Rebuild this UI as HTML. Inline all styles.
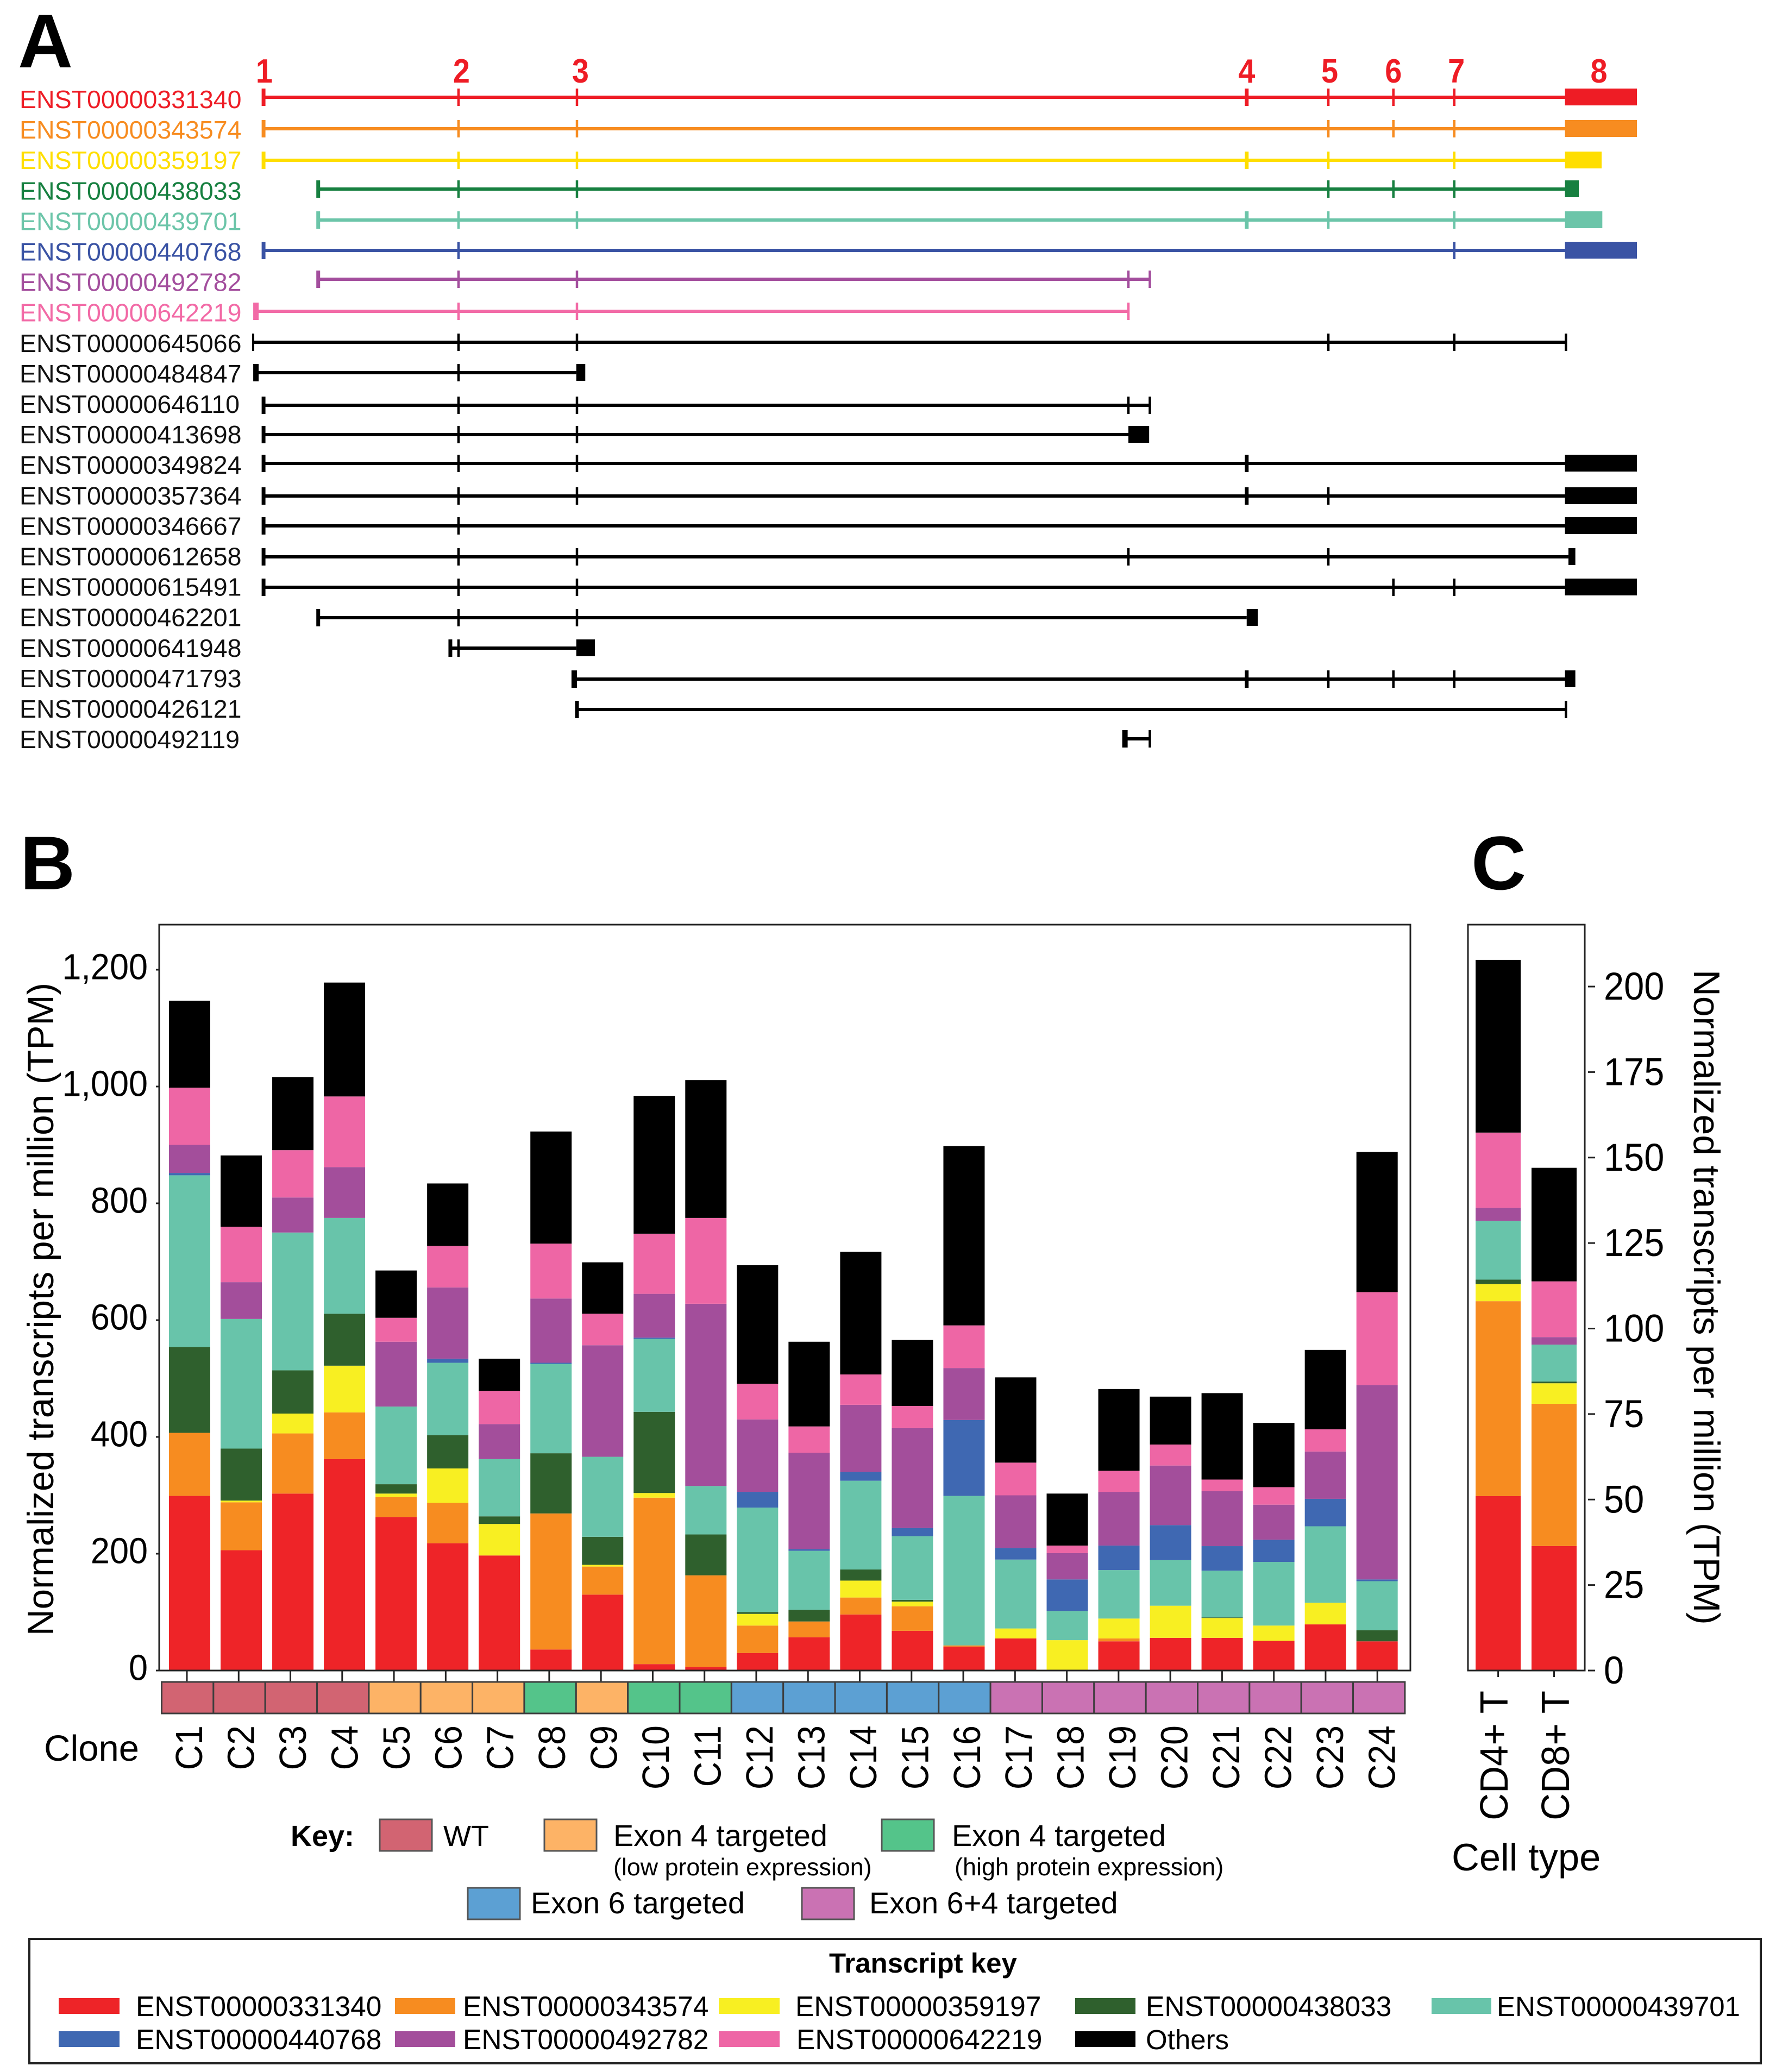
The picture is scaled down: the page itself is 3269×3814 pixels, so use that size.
<!DOCTYPE html>
<html lang="en">
<head>
<meta charset="utf-8">
<title>Transcript structures and expression</title>
<style>
html,body{margin:0;padding:0;background:#fff;}
svg{display:block;}
text{font-family:"Liberation Sans",Arial,sans-serif;fill:#000;}
.b{font-weight:bold;}
</style>
</head>
<body>
<svg id="fig" xmlns="http://www.w3.org/2000/svg" width="3269" height="3814" viewBox="0 0 3269 3814">
  <rect x="0" y="0" width="3269" height="3814" fill="#fff"/>

  <text class="b" x="33" y="124" font-size="140">A</text>
  <text class="b" x="37" y="1637" font-size="140">B</text>
  <text class="b" x="2708" y="1637" font-size="140">C</text>

  <g id="trackLayer"></g>
  <g id="barLayerB"></g>
  <g id="barLayerC"></g>

  <text transform="translate(98,3011) rotate(-90)" font-size="67.4">Normalized transcripts per million (TPM)</text>
  <text transform="translate(3118,1785) rotate(90)" font-size="67.6">Normalized transcripts per million (TPM)</text>
  <text x="81" y="3241" font-size="67">Clone</text>
  <text x="2672" y="3443" font-size="70.5">Cell type</text>

  <g>
    <text class="b" x="535" y="3398" font-size="54">Key:</text>
    <rect x="699" y="3349" width="96" height="58" fill="#d26472" stroke="#555" stroke-width="3"/>
    <text x="816" y="3398" font-size="54">WT</text>
    <rect x="1002" y="3349" width="96" height="58" fill="#fdb366" stroke="#555" stroke-width="3"/>
    <text x="1129" y="3398" font-size="55.8">Exon 4 targeted</text>
    <text x="1129" y="3452" font-size="44.8">(low protein expression)</text>
    <rect x="1623" y="3349" width="96" height="58" fill="#54c48a" stroke="#555" stroke-width="3"/>
    <text x="1752" y="3398" font-size="55.8">Exon 4 targeted</text>
    <text x="1757" y="3452" font-size="45">(high protein expression)</text>
    <rect x="861" y="3475" width="96" height="58" fill="#5ca0d3" stroke="#555" stroke-width="3"/>
    <text x="977" y="3522" font-size="55.8">Exon 6 targeted</text>
    <rect x="1476" y="3475" width="96" height="58" fill="#ca72b3" stroke="#555" stroke-width="3"/>
    <text x="1600" y="3522" font-size="55.8">Exon 6+4 targeted</text>
  </g>

  <g>
    <rect x="54" y="3569" width="3187" height="229" fill="none" stroke="#222" stroke-width="4"/>
    <text class="b" x="1526" y="3631" font-size="51">Transcript key</text>
    <rect x="108" y="3678" width="112" height="29" fill="#ee2428"/>
    <text x="250" y="3711" font-size="51.5">ENST00000331340</text>
    <rect x="727" y="3678" width="111" height="29" fill="#f78c20"/>
    <text x="852" y="3711" font-size="51.5">ENST00000343574</text>
    <rect x="1323" y="3678" width="112" height="29" fill="#f8ef22"/>
    <text x="1464" y="3711" font-size="51.5">ENST00000359197</text>
    <rect x="1979" y="3678" width="111" height="29" fill="#2f602d"/>
    <text x="2109" y="3711" font-size="51.5">ENST00000438033</text>
    <rect x="2635" y="3678" width="110" height="29" fill="#68c4aa"/>
    <text x="2755" y="3711" font-size="51">ENST00000439701</text>
    <rect x="108" y="3739" width="112" height="29" fill="#3f68b2"/>
    <text x="250" y="3772" font-size="51.5">ENST00000440768</text>
    <rect x="727" y="3739" width="111" height="29" fill="#a34e9b"/>
    <text x="852" y="3772" font-size="51.5">ENST00000492782</text>
    <rect x="1323" y="3739" width="112" height="29" fill="#ee66a5"/>
    <text x="1466" y="3772" font-size="51.5">ENST00000642219</text>
    <rect x="1979" y="3739" width="111" height="29" fill="#000"/>
    <text x="2109" y="3772" font-size="51">Others</text>
  </g>
</svg>

<script>
// ---------- Panel A data (positions in transcript model units, 0-1000) ----------
const transcriptIds = ["ENST00000331340","ENST00000343574","ENST00000359197","ENST00000438033","ENST00000439701","ENST00000440768","ENST00000492782","ENST00000642219","ENST00000645066","ENST00000484847","ENST00000646110","ENST00000413698","ENST00000349824","ENST00000357364","ENST00000346667","ENST00000612658","ENST00000615491","ENST00000462201","ENST00000641948","ENST00000471793","ENST00000426121","ENST00000492119"];
const transcriptStarts = [7.5,7.5,7.5,47,47,7.5,47,2,0,2,7.5,7.5,7.5,7.5,7.5,7.5,7.5,47,142.5,232,234,630];
const transcriptJunctions = [
  [148.4,234,718,777,824,868],
  [148.4,234,777,824,868],
  [148.4,234,718,777,868],
  [148.4,234,777,824,868],
  [148.4,234,718,777,868],
  [148.4,868],
  [148.4,234,632.5,648],
  [148.4,234,632.5],
  [148.4,234,777,868,948.7],
  [148.4],
  [148.4,234,632.5,648],
  [148.4,234],
  [148.4,234,718],
  [148.4,234,718,777],
  [148.4],
  [148.4,234,632.5,777],
  [148.4,234,824,868],
  [148.4,234],
  [148.4],
  [718,777,824,868],
  [948.7],
  [648]
];
const transcriptEndBlocks = [[948,1000],[948,1000],[948,974.5],[948,958],[948,975],[948,1000],null,null,null,[233.5,240],null,[632.5,647.5],[948,1000],[948,1000],[948,1000],[950.5,955.5],[948,1000],[718,726],[233.5,247],[948,955.5],null,null];
const exonNumbers = ["1","2","3","4","5","6","7","8"];
const exonNumberPositions = [8,150.5,236.5,718,778,824,869.5,972.5];

// ---------- Panel B data (TPM per transcript per clone) ----------
const cloneNames = ["C1","C2","C3","C4","C5","C6","C7","C8","C9","C10","C11","C12","C13","C14","C15","C16","C17","C18","C19","C20","C21","C22","C23","C24"];
const cloneGroups = ["wt","wt","wt","wt","low","low","low","high","low","high","high","e6","e6","e6","e6","e6","e64","e64","e64","e64","e64","e64","e64","e64"];
const tpm331340 = [299,206,303,362,263,218,197,36,130,11,6,30,57,96,68,41,55,0,50,56,56,51,79,50];
const tpm343574 = [108,82,103,80,34,69,0,233,48,285,157,47,27,29,42,2,0,0,5,0,0,0,0,0];
const tpm359197 = [0,3,34,80,6,59,54,0,3,8,0,20,0,29,8,0,17,52,34,55,34,26,37,0];
const tpm438033 = [147,89,74,89,16,57,13,103,48,139,70,3,20,19,3,0,0,0,0,0,1,0,0,19];
const tpm439701 = [294,222,236,164,133,124,98,153,137,125,83,179,101,152,109,256,118,50,83,78,80,109,131,84];
const tpm440768 = [4,0,0,0,0,7,0,2,0,2,0,27,3,15,14,130,20,54,42,60,42,38,47,3];
const tpm492782 = [48,63,60,87,111,122,60,110,191,75,312,124,165,115,171,89,90,45,92,102,94,60,81,333];
const tpm642219 = [98,95,81,121,41,71,57,94,54,103,147,61,45,52,38,73,56,13,36,36,20,30,38,159];
const tpmOthers = [149,122,125,195,81,107,55,192,88,236,236,203,145,210,113,307,146,89,140,82,148,110,136,240];
const cloneTickValues = [0,200,400,600,800,1000,1200];
const cloneTickLabels = ["0","200","400","600","800","1,000","1,200"];

// ---------- Panel C data (TPM per transcript per cell type) ----------
const cellTypes = ["CD4+ T","CD8+ T"];
const cell331340 = [51,36.4];
const cell343574 = [57,41.6];
const cell359197 = [5,6];
const cell438033 = [1.3,0.5];
const cell439701 = [17.2,10.8];
const cell440768 = [0,0];
const cell492782 = [3.8,2.2];
const cell642219 = [22,16.3];
const cellOthers = [50.5,33.2];
const cellTickValues = [0,25,50,75,100,125,150,175,200];
const cellTickLabels = ["0","25","50","75","100","125","150","175","200"];

// ---------- Styles ----------
const seriesColors = ["#ee2428","#f78c20","#f8ef22","#2f602d","#68c4aa","#3f68b2","#a34e9b","#ee66a5","#000000"];
const seriesNames = ["331340","343574","359197","438033","439701","440768","492782","642219","others"];
const trackColors = ["#ee1c25","#f78c20","#ffde00","#178040","#6cc5a9","#3a53a4","#a34e9d","#f26aa6"];
const groupColors = {wt:"#d26472",low:"#fdb366",high:"#54c48a",e6:"#5ca0d3",e64:"#ca72b3"};

// ---------- Scales ----------
function trackX(u){return 466+u*2.547;}
function trackRowY(i){return [179,237,295,348,405,461,514,573,630,686,746,800,853,913,968,1025,1081,1137,1193,1250,1306,1360][i];}
function labelRowY(i){return 199+56.1*i;}
function yB(v){return 3075-v*1.075;}
function xB(i){return 349+95.03*i;}
function yC(v){return 3075-v*6.295;}
function xC(i){return 2757.6+102.9*i;}

const NS = "http://www.w3.org/2000/svg";
function mk(tag, attrs, parent){
  const n = document.createElementNS(NS, tag);
  for (const k in attrs) n.setAttribute(k, attrs[k]);
  parent.appendChild(n);
  return n;
}
let el;

// ---------- Panel A ----------
const track = document.getElementById("trackLayer");
exonNumbers.forEach(function(t, i){
  el = mk("text", {transform:"translate("+trackX(exonNumberPositions[i])+",152) scale(.9,1)", "font-size":62, "font-weight":"bold", "text-anchor":"middle", style:"fill:#ee1c25"}, track);
  
  
  el.textContent = t;
});
transcriptIds.forEach(function(id, i){
  const y = trackRowY(i);
  const color = i < trackColors.length ? trackColors[i] : "#000000";
  el = mk("text", {x:36, y:labelRowY(i), "font-size":46.5, style:"fill:"+(i<trackColors.length?color:"#111")}, track);
  
  
  el.textContent = id;

  const juncs = transcriptJunctions[i];
  const block = transcriptEndBlocks[i];
  let end = transcriptStarts[i];
  juncs.forEach(function(u){ if (u > end) end = u; });
  if (block && block[0] > end) end = block[0];
  el = mk("rect", {x:trackX(transcriptStarts[i]), y:y-3, width:trackX(end)-trackX(transcriptStarts[i]), height:6, fill:color}, track);
  
  

  const startW = (i===7||i===9||i===19||i===21) ? 10 : (i===8 ? 4 : 7);
  el = mk("rect", {x:trackX(transcriptStarts[i])-startW/2, y:y-16, width:startW, height:32, fill:color}, track);
  
  

  juncs.forEach(function(u){
    const w = u === 718 ? 7 : 4.5;
    el = mk("rect", {x:trackX(u)-w/2, y:y-16, width:w, height:32, fill:color}, track);
    
    
  });
  if (block) {
    el = mk("rect", {x:trackX(block[0]), y:y-16, width:trackX(block[1])-trackX(block[0]), height:31, fill:color}, track);
    
    
  }
});

// ---------- Panel B ----------
const layerB = document.getElementById("barLayerB");
const cloneSeries = [tpm331340,tpm343574,tpm359197,tpm438033,tpm439701,tpm440768,tpm492782,tpm642219,tpmOthers];
cloneNames.forEach(function(name, i){
  let cum = 0;
  cloneSeries.forEach(function(s, k){
    const v = s[i];
    if (v > 0) {
      el = mk("rect", {x:xB(i)-38, y:yB(cum+v), width:76, height:yB(cum)-yB(cum+v), fill:seriesColors[k]}, layerB);
      
      
    }
    cum += v;
  });
});
el = mk("rect", {x:293, y:1702, width:2303, height:1373, fill:"none", stroke:"#222", "stroke-width":3}, layerB);



cloneTickValues.forEach(function(v, i){
  el = mk("rect", {x:287, y:yB(v)-1.5, width:6, height:3, fill:"#222"}, layerB);
  
  
  el = mk("text", {transform:"translate(272,"+(yB(v)+17.5)+") scale(.94,1)", "font-size":67, "text-anchor":"end"}, layerB);
  
  
  el.textContent = cloneTickLabels[i];
});
cloneNames.forEach(function(name, i){
  const cx = 344+95.27*i;
  el = mk("rect", {x:cx-1.5, y:3075, width:3, height:20, fill:"#222"}, layerB);
  
  
  el = mk("rect", {x:297.5+95.35*i, y:3096, width:95.35, height:58, fill:groupColors[cloneGroups[i]], stroke:"#3d3d3d", "stroke-width":3}, layerB);
  
  
  el = mk("text", {transform:"translate("+(372+95.45*i)+",3176) rotate(-90) scale(.92,1)", "font-size":70, "text-anchor":"end"}, layerB);
  
  
  el.textContent = name;
});

// ---------- Panel C ----------
const layerC = document.getElementById("barLayerC");
const cellSeries = [cell331340,cell343574,cell359197,cell438033,cell439701,cell440768,cell492782,cell642219,cellOthers];
cellTypes.forEach(function(name, i){
  let cum = 0;
  cellSeries.forEach(function(s, k){
    const v = s[i];
    if (v > 0) {
      el = mk("rect", {x:xC(i)-41.5, y:yC(cum+v), width:83, height:yC(cum)-yC(cum+v), fill:seriesColors[k]}, layerC);
      
      
    }
    cum += v;
  });
  el = mk("rect", {x:xC(i)-1.5, y:3075, width:3, height:12, fill:"#222"}, layerC);
  
  
  el = mk("text", {transform:"translate("+(i===0?2775:2888)+",3112) rotate(-90) scale(.96,1)", "font-size":72, "text-anchor":"end"}, layerC);
  
  
  el.textContent = name;
});
el = mk("rect", {x:2702, y:1702, width:215, height:1373, fill:"none", stroke:"#222", "stroke-width":3}, layerC);


cellTickValues.forEach(function(v, i){
  el = mk("rect", {x:2923, y:yC(v)-1.5, width:13, height:3, fill:"#222"}, layerC);
  
  
  el = mk("text", {transform:"translate(2952,"+(yC(v)+24)+") scale(.94,1)", "font-size":71}, layerC);
  
  
  el.textContent = cellTickLabels[i];
});
</script>
</body>
</html>
